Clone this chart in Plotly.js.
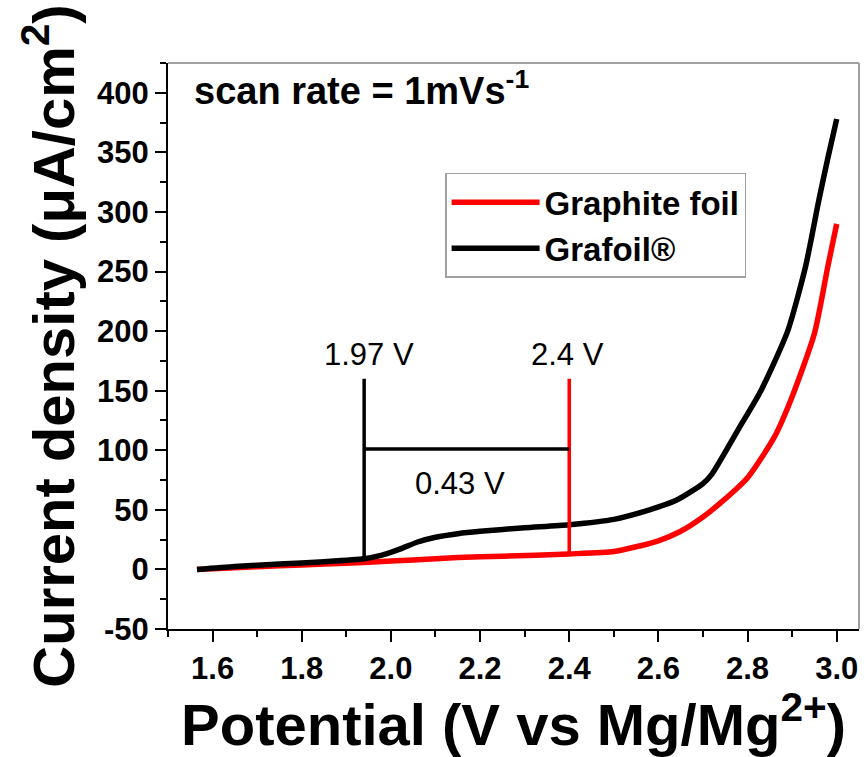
<!DOCTYPE html>
<html>
<head>
<meta charset="utf-8">
<script src="https://cdn.plot.ly/plotly-3.0.1.min.js"></script>
<style>
  html, body { margin: 0; padding: 0; background: #fff; }
  #chart { width: 865px; height: 757px; }
</style>
</head>
<body>
<div id="chart"></div>
<script>
// Graphite foil (red)
const graphiteV = [1.565, 1.65, 1.75, 1.85, 1.95, 2.05, 2.15, 2.25, 2.4, 2.5, 2.55, 2.6, 2.65, 2.7, 2.74, 2.8, 2.86, 2.9, 2.95, 2.98, 3.0];
const graphiteJ = [0, 1.5, 3, 4.5, 6, 8, 10, 11, 13, 15, 19, 24, 32, 44, 56, 77, 111, 145, 198, 254, 290];
// Grafoil (black)
const grafoilV = [1.565, 1.65, 1.75, 1.85, 1.94, 1.98, 2.02, 2.06, 2.10, 2.15, 2.2, 2.3, 2.4, 2.5, 2.58, 2.64, 2.70, 2.72, 2.78, 2.83, 2.89, 2.93, 2.96, 2.98, 3.0];
const grafoilJ = [0, 2.5, 4.5, 6.5, 9, 12, 17, 23, 27, 30, 32, 35, 37.5, 42, 50, 58, 72, 80, 118, 150, 200, 254, 310, 345, 378];
const seriesNames = ['Graphite foil', 'Grafoil®'];
// Onset markers
const onsetV = [1.94, 2.4];
const onsetBottom = [8, 13];
const onsetTop = [160, 160];
const onsetLabels = ['1.97 V', '2.4 V'];
const gapJ = 101;
const gapLabel = '0.43 V';
const xTicks = [1.6, 1.8, 2.0, 2.2, 2.4, 2.6, 2.8, 3.0];
const xTickText = ['1.6', '1.8', '2.0', '2.2', '2.4', '2.6', '2.8', '3.0'];
const yTicks = [-50, 0, 50, 100, 150, 200, 250, 300, 350, 400];
const yTickText = ['-50', '0', '50', '100', '150', '200', '250', '300', '350', '400'];

const FONT = 'Arial, "Liberation Sans", sans-serif';

const traces = [
  {x: graphiteV, y: graphiteJ, name: seriesNames[0], mode: 'lines', type: 'scatter',
   line: {color: '#ff0000', width: 5.5, shape: 'spline', smoothing: 0.6}},
  {x: grafoilV, y: grafoilJ, name: seriesNames[1], mode: 'lines', type: 'scatter',
   line: {color: '#000000', width: 5.5, shape: 'spline', smoothing: 0.6}}
];

const colors = ['#000000', '#ff0000'];
const shapes = [];
for (let i = 0; i < onsetV.length; i++) {
  shapes.push({type: 'line', xref: 'x', yref: 'y', x0: onsetV[i], x1: onsetV[i],
    y0: onsetBottom[i], y1: onsetTop[i], line: {color: colors[i], width: 3.5}});
}
shapes.push({type: 'line', xref: 'x', yref: 'y', x0: onsetV[0], x1: onsetV[1],
  y0: gapJ, y1: gapJ, line: {color: '#000', width: 3.5}});
// grey frame top/right
shapes.push({type: 'line', xref: 'paper', yref: 'paper', x0: 0, x1: 1, y0: 1, y1: 1, line: {color: '#a0a0a0', width: 2}});
shapes.push({type: 'line', xref: 'paper', yref: 'paper', x0: 1, x1: 1, y0: 0, y1: 1, line: {color: '#a0a0a0', width: 2}});

const annotations = [
  {x: 1.95, y: 180, xref: 'x', yref: 'y', text: onsetLabels[0], showarrow: false,
   font: {family: FONT, size: 31, color: '#000'}},
  {x: 2.395, y: 180, xref: 'x', yref: 'y', text: onsetLabels[1], showarrow: false,
   font: {family: FONT, size: 31, color: '#000'}},
  {x: 2.156, y: 72.5, xref: 'x', yref: 'y', text: gapLabel, showarrow: false,
   font: {family: FONT, size: 31, color: '#000'}},
  {x: 0.035, y: 0.955, xref: 'paper', yref: 'paper', xanchor: 'left', yanchor: 'middle',
   text: '<b>scan rate = 1mVs<sup>-1</sup></b>', showarrow: false,
   font: {family: FONT, size: 38, color: '#000'}}
];

const layout = {
  width: 865, height: 757,
  margin: {l: 168, r: 6, t: 63, b: 128},
  paper_bgcolor: '#fff', plot_bgcolor: '#fff',
  showlegend: true,
  legend: {x: 0.401, y: 0.806, xanchor: 'left', yanchor: 'top',
    bgcolor: '#fff', bordercolor: '#a0a0a0', borderwidth: 1.5,
    font: {family: FONT, size: 33, color: '#000', weight: 'bold'},
    itemwidth: 88, tracegroupgap: 0},
  xaxis: {range: [1.5, 3.05], tickvals: xTicks, ticktext: xTickText,
    ticks: 'outside', ticklen: 11, tickwidth: 2, tickcolor: '#000',
    minor: {dtick: 0.1, tick0: 1.5, ticks: 'outside', ticklen: 6, tickwidth: 2, tickcolor: '#000'},
    showline: true, linecolor: '#000', linewidth: 2, showgrid: false, zeroline: false,
    tickfont: {family: FONT, size: 31, color: '#000', weight: 'bold'},
    title: {text: '<b>Potential (V vs Mg/Mg<sup>2+</sup>)</b>', font: {family: FONT, size: 58, color: '#000'}, standoff: 6}},
  yaxis: {range: [-50, 425], tickvals: yTicks, ticktext: yTickText,
    ticks: 'outside', ticklen: 11, tickwidth: 2, tickcolor: '#000',
    minor: {dtick: 25, tick0: 0, ticks: 'outside', ticklen: 6, tickwidth: 2, tickcolor: '#000'},
    showline: true, linecolor: '#000', linewidth: 2, showgrid: false, zeroline: false,
    tickfont: {family: FONT, size: 31, color: '#000', weight: 'bold'},
    title: {text: '<b>Current density (μA/cm<sup>2</sup>)</b>', font: {family: FONT, size: 58, color: '#000'}, standoff: 4}},
  shapes: shapes,
  annotations: annotations
};

Plotly.newPlot('chart', traces, layout, {displayModeBar: false, staticPlot: true});
</script>
</body>
</html>
